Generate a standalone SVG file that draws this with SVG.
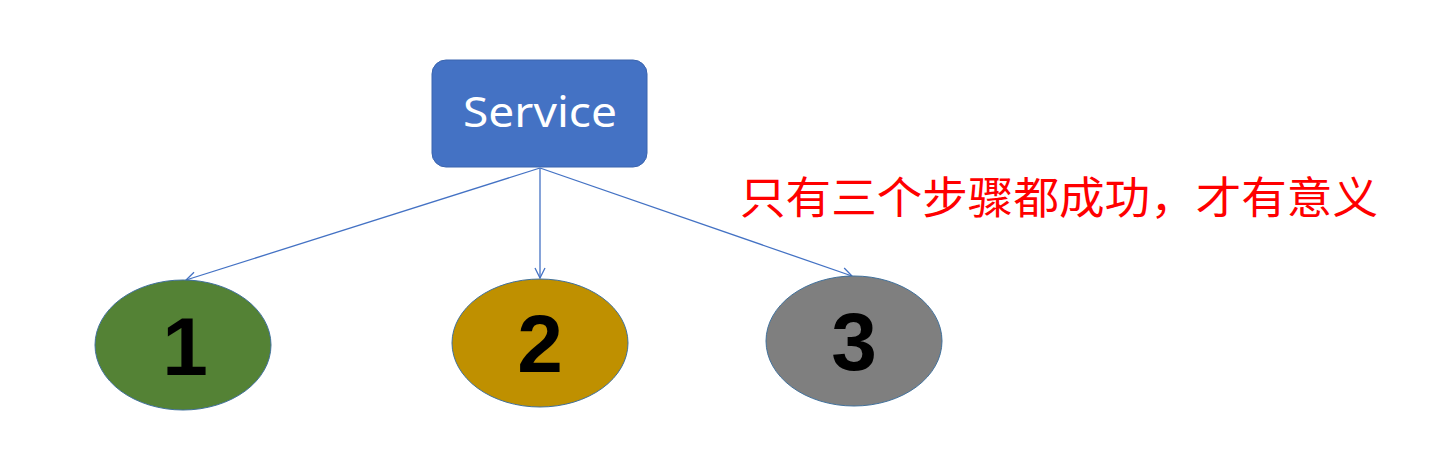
<svg xmlns="http://www.w3.org/2000/svg" width="1436" height="449" viewBox="0 0 1436 449">
<defs>
<style>
.conn{stroke:#4472C4;stroke-width:1.3;fill:none;marker-end:url(#arr)}
.num{font-family:"Liberation Sans",Arial,sans-serif;font-weight:bold;font-size:82px;fill:#000;text-anchor:middle}
.ell{stroke:#41719C;stroke-width:1}
</style>
<marker id="arr" viewBox="0 0 12 12" refX="11" refY="6" markerWidth="12" markerHeight="12" markerUnits="userSpaceOnUse" orient="auto">
<path d="M1,1 L11,6 L1,11" fill="none" stroke="#4472C4" stroke-width="1.3"/>
</marker>
</defs>
<rect width="1436" height="449" fill="#fff"/>
<g id="connectors">
<line class="conn" x1="540" y1="168" x2="186" y2="280"/>
<line class="conn" x1="540" y1="168" x2="540" y2="278"/>
<line class="conn" x1="540" y1="168" x2="852" y2="276"/>
</g>
<g id="service">
<rect x="432" y="60" width="215" height="107" rx="14" fill="#4472C4" stroke="#3A64AE" stroke-width="1"/>
<text x="540" y="127" font-family="'Noto Sans','Open Sans',sans-serif" font-size="42" fill="#fff" text-anchor="middle" textLength="154" lengthAdjust="spacingAndGlyphs">Service</text>
</g>
<g id="node1">
<ellipse class="ell" cx="183" cy="345" rx="88" ry="65" fill="#548235"/>
<text class="num" x="185" y="375">1</text>
</g>
<g id="node2">
<ellipse class="ell" cx="540" cy="343" rx="88" ry="64" fill="#BF9000"/>
<text class="num" x="540" y="372">2</text>
</g>
<g id="node3">
<ellipse class="ell" cx="854" cy="341" rx="88" ry="65" fill="#7F7F7F"/>
<text class="num" x="854" y="370">3</text>
</g>
<g id="note">
<text x="740" y="214" font-family="'Noto Sans CJK SC',sans-serif" font-size="44" fill="#FF0000" textLength="638" lengthAdjust="spacingAndGlyphs">只有三个步骤都成功，才有意义</text>
</g>
</svg>
